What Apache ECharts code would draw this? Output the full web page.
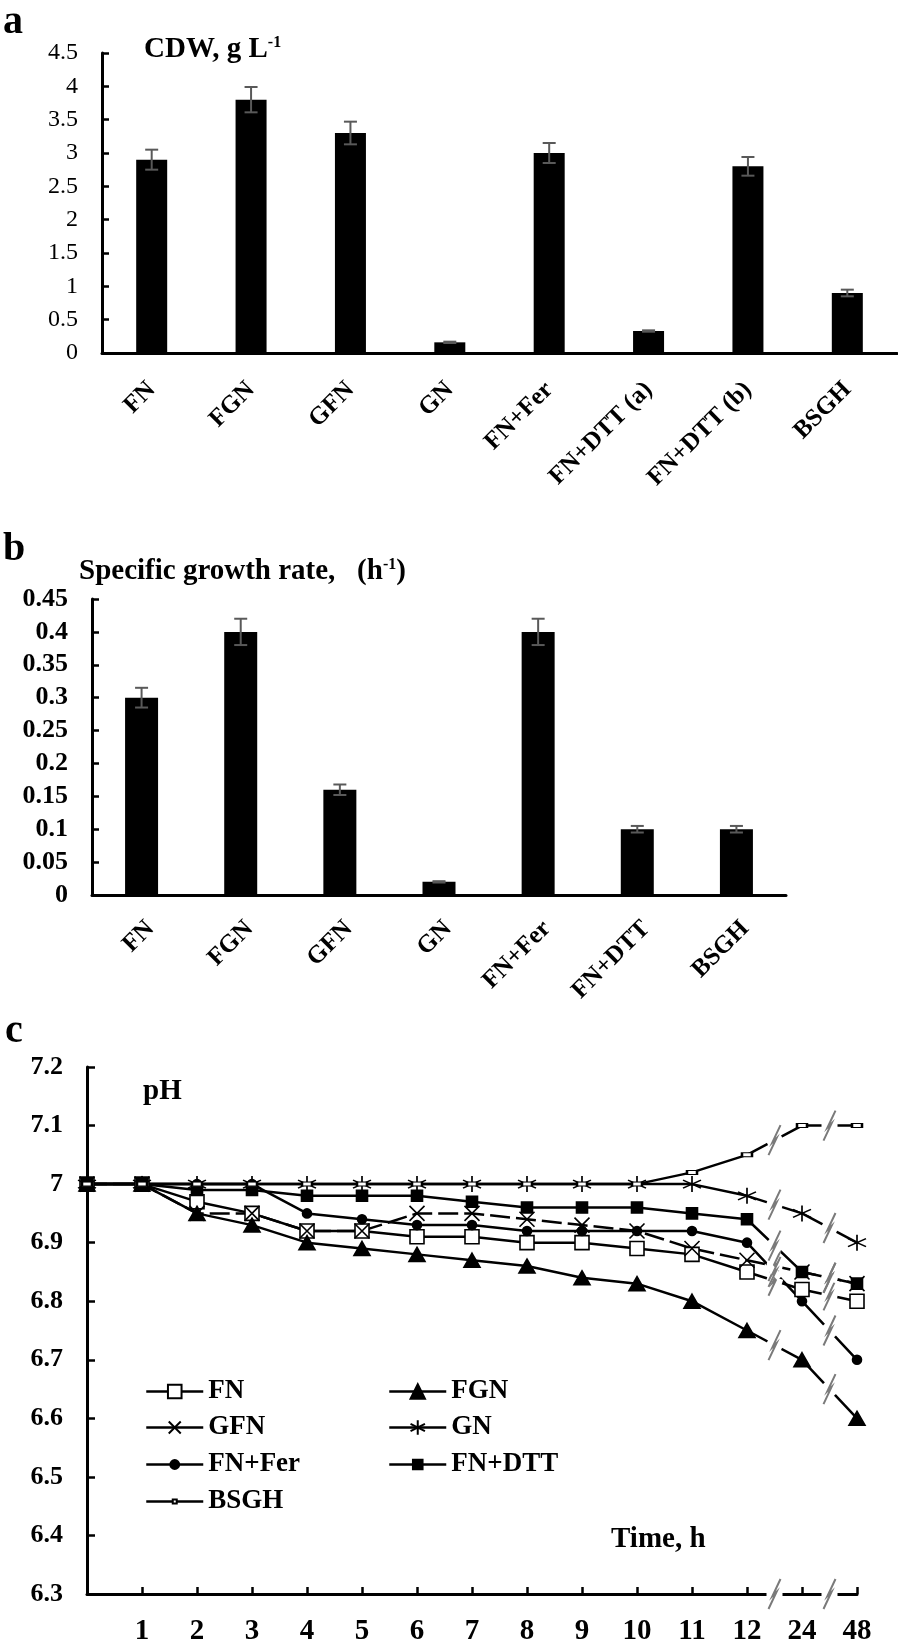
<!DOCTYPE html>
<html><head><meta charset="utf-8">
<script src="https://cdn.jsdelivr.net/npm/echarts/dist/echarts.min.js"></script>
<style>html,body{margin:0;padding:0;background:#fff}#c{width:898px;height:1649px}</style>
</head><body><div id="c"></div>
<script>
const FONT = '"Liberation Serif", "Times New Roman", serif';

// Panel a: cell dry weight
const cdwCategories = ['FN', 'FGN', 'GFN', 'GN', 'FN+Fer', 'FN+DTT (a)', 'FN+DTT (b)', 'BSGH'];
const cdwValues = [2.9, 3.8, 3.3, 0.16, 3.0, 0.33, 2.8, 0.9];
const cdwErrors = [0.15, 0.19, 0.17, 0.01, 0.15, 0.01, 0.14, 0.05];
const cdwTicks = { min: 0, max: 4.5, interval: 0.5 };

// Panel b: specific growth rate
const sgrCategories = ['FN', 'FGN', 'GFN', 'GN', 'FN+Fer', 'FN+DTT', 'BSGH'];
const sgrValues = [0.30, 0.40, 0.16, 0.02, 0.40, 0.10, 0.10];
const sgrErrors = [0.015, 0.02, 0.008, 0.001, 0.02, 0.005, 0.005];
const sgrTicks = { min: 0, max: 0.45, interval: 0.05 };

// Panel c: pH over time
const timeLabels = ['', '1', '2', '3', '4', '5', '6', '7', '8', '9', '10', '11', '12', '24', '48'];
const phFN     = [7, 7, 6.97, 6.95, 6.92, 6.92, 6.91, 6.91, 6.90, 6.90, 6.89, 6.88, 6.85, 6.82, 6.80];
const phFGN    = [7, 7, 6.95, 6.93, 6.90, 6.89, 6.88, 6.87, 6.86, 6.84, 6.83, 6.80, 6.75, 6.70, 6.60];
const phGFN    = [7, 7, 6.95, 6.95, 6.92, 6.92, 6.95, 6.95, 6.94, 6.93, 6.92, 6.89, 6.87, 6.85, 6.83];
const phGN     = [7, 7, 7, 7, 7, 7, 7, 7, 7, 7, 7, 7, 6.98, 6.95, 6.90];
const phFNFer  = [7, 7, 7, 7, 6.95, 6.94, 6.93, 6.93, 6.92, 6.92, 6.92, 6.92, 6.90, 6.80, 6.70];
const phFNDTT  = [7, 7, 6.99, 6.99, 6.98, 6.98, 6.98, 6.97, 6.96, 6.96, 6.96, 6.95, 6.94, 6.85, 6.83];
const phBSGH   = [7, 7, 7, 7, 7, 7, 7, 7, 7, 7, 7, 7.02, 7.05, 7.10, 7.10];
const phTicks = { min: 6.3, max: 7.2, interval: 0.1 };
const breakIndices = [12, 13]; // axis breaks between 12-24 and 24-48

const chart = echarts.init(document.getElementById('c'), null, { renderer: 'canvas' });

function errRender(params, api) {
  const x = api.value(0), lo = api.value(1), hi = api.value(2);
  const pLo = api.coord([x, lo]), pHi = api.coord([x, hi]);
  const hw = 6.5;
  const st = { stroke: '#595959', lineWidth: 2 };
  return { type: 'group', children: [
    { type: 'line', shape: { x1: pLo[0], y1: pLo[1], x2: pHi[0], y2: pHi[1] }, style: st },
    { type: 'line', shape: { x1: pLo[0] - hw, y1: pLo[1], x2: pLo[0] + hw, y2: pLo[1] }, style: st },
    { type: 'line', shape: { x1: pHi[0] - hw, y1: pHi[1], x2: pHi[0] + hw, y2: pHi[1] }, style: st }
  ]};
}

function breakRender(params, api) {
  const i0 = api.value(0), v0 = api.value(1), v1 = api.value(2);
  const p0 = api.coord([i0, v0]), p1 = api.coord([i0 + 1, v1]);
  const mx = (p0[0] + p1[0]) / 2, my = (p0[1] + p1[1]) / 2;
  const dx = p1[0] - p0[0], dy = p1[1] - p0[1];
  const L = Math.hypot(dx, dy) || 1;
  const ux = dx / L * 8, uy = dy / L * 8;
  return { type: 'group', children: [
    { type: 'line', shape: { x1: mx - ux, y1: my - uy, x2: mx + ux, y2: my + uy }, style: { stroke: '#fff', lineWidth: 7 } },
    { type: 'polyline', shape: { points: [[mx - 6, my + 15], [mx + 2, my - 2], [mx - 2, my + 2], [mx + 6, my - 15]] },
      style: { stroke: '#7a7a7a', lineWidth: 2, fill: null } }
  ]};
}

const axisLineStyle = { color: '#000', width: 3 };
const tickStyle = { color: '#000', width: 2.5 };

function barCatAxis(grid, cats, margin, vAlign) {
  return {
    type: 'category', gridIndex: grid, data: cats,
    axisLine: { lineStyle: axisLineStyle },
    axisTick: { show: false },
    axisLabel: { interval: 0, rotate: 45, margin: margin, verticalAlign: vAlign, color: '#000',
                 fontFamily: FONT, fontSize: 25, fontWeight: 'bold' }
  };
}

const phSeriesDefs = [
  { name: 'FN', data: phFN, symbol: 'rect', symbolSize: 14, fill: '#fff', dash: 'solid', legendH: 17, legendLeft: 140, row: 0 },
  { name: 'FGN', data: phFGN, symbol: 'triangle', symbolSize: [16, 14], fill: '#000', dash: 'solid', legendH: 18, legendLeft: 383, row: 0 },
  { name: 'GFN', data: phGFN, symbol: 'path://M0,0L10,10M10,0L0,10', symbolSize: 15, fill: '#000', dash: [20, 6], legendH: 15, legendLeft: 140, row: 1 },
  { name: 'GN', data: phGN, symbol: 'path://M5,0L5,10M0.67,2.5L9.33,7.5M9.33,2.5L0.67,7.5', symbolSize: [18, 16], fill: '#000', dash: 'solid', legendH: 18, legendLeft: 383, row: 1 },
  { name: 'FN+Fer', data: phFNFer, symbol: 'circle', symbolSize: 9, fill: '#000', dash: 'solid', legendH: 11, legendLeft: 140, row: 2 },
  { name: 'FN+DTT', data: phFNDTT, symbol: 'rect', symbolSize: 11, fill: '#000', dash: 'solid', legendH: 12, legendLeft: 383, row: 2 },
  { name: 'BSGH', data: phBSGH, symbol: 'rect', symbolSize: [10, 4], fill: '#fff', dash: 'solid', legendH: 5, legendLeft: 140, row: 3 }
];
const legendRowTops = [1373, 1409, 1446, 1483];

const phSeries = phSeriesDefs.map(d => ({
  type: 'line', name: d.name, xAxisIndex: 2, yAxisIndex: 2, data: d.data,
  symbol: d.symbol, symbolSize: d.symbolSize, showSymbol: true, showAllSymbol: true,
  lineStyle: { color: '#000', width: 2.5, type: d.dash },
  itemStyle: { color: d.fill, borderColor: '#000', borderWidth: 1.6 },
  emphasis: { disabled: true }, animation: false, z: 3
}));

const breakData = [];
phSeriesDefs.forEach(d => breakIndices.forEach(i => breakData.push([i, d.data[i], d.data[i + 1]])));
breakIndices.forEach(i => breakData.push([i, phTicks.min, phTicks.min]));

const legendText = { fontFamily: FONT, fontSize: 27, fontWeight: 'bold', color: '#000' };
const legends = phSeriesDefs.map(d => ({
  data: [d.name], orient: 'vertical', left: d.legendLeft, top: legendRowTops[d.row],
  itemWidth: 57, itemHeight: d.legendH, selectedMode: false, textStyle: legendText,
  lineStyle: { type: 'solid', width: 2.5, color: '#000' }
}));

const option = {
  backgroundColor: '#fff',
  animation: false,
  grid: [
    { left: 102, top: 53, width: 795, height: 300, outerBoundsMode: 'none' },
    { left: 92, top: 599, width: 694, height: 296, outerBoundsMode: 'none' },
    { left: 87, top: 1067, width: 770, height: 527, outerBoundsMode: 'none' }
  ],
  xAxis: [
    barCatAxis(0, cdwCategories, 33, 'middle'),
    barCatAxis(1, sgrCategories, 21, 'top'),
    {
      type: 'category', gridIndex: 2, data: timeLabels, boundaryGap: false,
      axisLine: { lineStyle: axisLineStyle },
      axisTick: { show: true, inside: true, length: 7, interval: 0, lineStyle: tickStyle },
      axisLabel: { interval: 0, margin: 23, color: '#000', fontFamily: FONT, fontSize: 29, fontWeight: 'bold' }
    }
  ],
  yAxis: [
    {
      type: 'value', gridIndex: 0, min: cdwTicks.min, max: cdwTicks.max, interval: cdwTicks.interval,
      splitLine: { show: false },
      axisLine: { show: true, lineStyle: axisLineStyle },
      axisTick: { show: true, inside: true, length: 7, lineStyle: tickStyle },
      axisLabel: { margin: 24, color: '#000', fontFamily: FONT, fontSize: 24 }
    },
    {
      type: 'value', gridIndex: 1, min: sgrTicks.min, max: sgrTicks.max, interval: sgrTicks.interval,
      splitLine: { show: false },
      axisLine: { show: true, lineStyle: axisLineStyle },
      axisTick: { show: true, inside: true, length: 7, lineStyle: tickStyle },
      axisLabel: { margin: 24, color: '#000', fontFamily: FONT, fontSize: 26, fontWeight: 'bold' }
    },
    {
      type: 'value', gridIndex: 2, min: phTicks.min, max: phTicks.max, interval: phTicks.interval,
      splitLine: { show: false },
      axisLine: { show: true, lineStyle: axisLineStyle },
      axisTick: { show: true, inside: true, length: 8, lineStyle: tickStyle },
      axisLabel: { margin: 24, color: '#000', fontFamily: FONT, fontSize: 26, fontWeight: 'bold' }
    }
  ],
  legend: legends,
  series: [
    { type: 'bar', xAxisIndex: 0, yAxisIndex: 0, data: cdwValues, barWidth: 31,
      itemStyle: { color: '#000' }, emphasis: { disabled: true } },
    { type: 'custom', xAxisIndex: 0, yAxisIndex: 0, renderItem: errRender, z: 5,
      data: cdwValues.map((v, i) => [i, v - cdwErrors[i], v + cdwErrors[i]]), encode: { x: 0, y: [1, 2] } },
    { type: 'bar', xAxisIndex: 1, yAxisIndex: 1, data: sgrValues, barWidth: 33,
      itemStyle: { color: '#000' }, emphasis: { disabled: true } },
    { type: 'custom', xAxisIndex: 1, yAxisIndex: 1, renderItem: errRender, z: 5,
      data: sgrValues.map((v, i) => [i, v - sgrErrors[i], v + sgrErrors[i]]), encode: { x: 0, y: [1, 2] } },
    ...phSeries,
    { type: 'custom', xAxisIndex: 2, yAxisIndex: 2, renderItem: breakRender, z: 10, clip: false,
      data: breakData, encode: { x: 0, y: [1, 2] } }
  ],
  graphic: [
    { type: 'text', left: 3, top: 3, style: { text: 'a', font: 'bold 40px ' + FONT, fill: '#000' } },
    { type: 'text', left: 144, top: 35, style: {
        text: '{t|CDW, g L}{s|-1}', fill: '#000',
        rich: { t: { fontFamily: FONT, fontSize: 29, fontWeight: 'bold', verticalAlign: 'bottom' },
                s: { fontFamily: FONT, fontSize: 16, fontWeight: 'bold', verticalAlign: 'top' } } } },
    { type: 'text', left: 3, top: 530, style: { text: 'b', font: 'bold 40px ' + FONT, fill: '#000' } },
    { type: 'text', left: 79, top: 557, style: {
        text: '{t|Specific growth rate,   (h}{s|-1}{t|)}', fill: '#000',
        rich: { t: { fontFamily: FONT, fontSize: 29, fontWeight: 'bold', verticalAlign: 'bottom' },
                s: { fontFamily: FONT, fontSize: 16, fontWeight: 'bold', verticalAlign: 'top' } } } },
    { type: 'text', left: 5, top: 1012, style: { text: 'c', font: 'bold 40px ' + FONT, fill: '#000' } },
    { type: 'text', left: 143, top: 1077, style: { text: 'pH', font: 'bold 29px ' + FONT, fill: '#000' } },
    { type: 'text', left: 611, top: 1525, style: { text: 'Time, h', font: 'bold 29px ' + FONT, fill: '#000' } }
  ]
};
chart.setOption(option);
</script>
</body></html>
